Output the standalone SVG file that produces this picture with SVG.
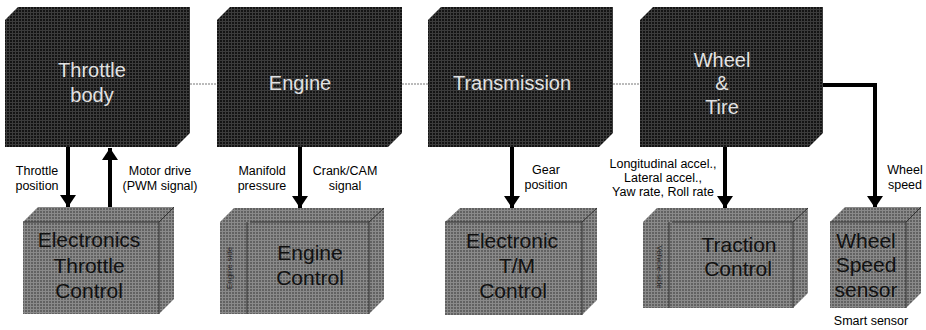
<svg xmlns="http://www.w3.org/2000/svg" width="926" height="330" viewBox="0 0 926 330">
<defs>
<pattern id="darkTex" patternUnits="userSpaceOnUse" width="3" height="3">
<rect width="3" height="3" fill="#141414"/>
<rect width="3" height="1" fill="#3c3c3c"/>
<rect width="1" height="3" fill="#3c3c3c"/>
</pattern>
<pattern id="greyTex" patternUnits="userSpaceOnUse" width="3" height="3">
<rect width="3" height="3" fill="#626262"/>
<rect width="3" height="1" fill="#8a8a8a"/>
<rect width="1" height="3" fill="#8a8a8a"/>
</pattern>
<marker id="ah" viewBox="0 0 12 16" refX="12" refY="8" markerWidth="12" markerHeight="16" markerUnits="userSpaceOnUse" orient="auto">
<path d="M0,0 L12,8 L0,16 Z" fill="#000"/>
</marker>
</defs>
<style>
.top{fill:url(#darkTex);}
.bot{fill:url(#greyTex);}
.edge{fill:none;stroke:#333;stroke-width:1;}
.tt{font-family:"Liberation Sans",Arial,sans-serif;font-size:20px;fill:#e2e2e2;text-anchor:middle;}
.bt{font-family:"Liberation Sans",Arial,sans-serif;font-size:21px;fill:#111;text-anchor:middle;}
.lb{font-family:"Liberation Sans",Arial,sans-serif;font-size:12.5px;fill:#000;text-anchor:middle;}
.sm{font-family:"Liberation Sans",Arial,sans-serif;font-size:8px;fill:#222;text-anchor:middle;}
.arr{fill:none;stroke:#000;stroke-width:4;marker-end:url(#ah);}
.dot{fill:none;stroke:#777;stroke-width:1;stroke-dasharray:2 1;}
</style>
<rect width="926" height="330" fill="#fff"/>

<g id="connectors">
<line class="dot" x1="190" y1="84" x2="217" y2="84"/>
<line class="dot" x1="402" y1="84" x2="428" y2="84"/>
<line class="dot" x1="613" y1="84" x2="640" y2="84"/>
<line class="arr" x1="68" y1="147" x2="68" y2="207"/>
<line class="arr" x1="110" y1="207" x2="110" y2="148"/>
<line class="arr" x1="300" y1="147" x2="300" y2="208"/>
<line class="arr" x1="512" y1="147" x2="512" y2="208"/>
<line class="arr" x1="725" y1="147" x2="725" y2="208"/>
<path class="arr" d="M818,85 H875 V208"/>
<text class="lb" x="37" y="175">Throttle</text>
<text class="lb" x="37" y="190">position</text>
<text class="lb" x="160" y="175">Motor drive</text>
<text class="lb" x="160" y="190">(PWM signal)</text>
<text class="lb" x="262" y="175">Manifold</text>
<text class="lb" x="262" y="190">pressure</text>
<text class="lb" x="345" y="175">Crank/CAM</text>
<text class="lb" x="345" y="190">signal</text>
<text class="lb" x="546" y="174">Gear</text>
<text class="lb" x="546" y="189">position</text>
<text class="lb" x="663" y="168">Longitudinal accel.,</text>
<text class="lb" x="663" y="182">Lateral accel.,</text>
<text class="lb" x="663" y="196">Yaw rate, Roll rate</text>
<text class="lb" x="905" y="174">Wheel</text>
<text class="lb" x="905" y="189">speed</text>
</g>

<g id="throttle-body">
<polygon class="top" points="5,20 18,7 190,7 190,133 176,147 5,147"/>
<text class="tt" x="92" y="77">Throttle</text>
<text class="tt" x="92" y="102">body</text>
</g>
<g id="engine">
<polygon class="top" points="217,20 230,7 402,7 402,133 388,147 217,147"/>
<text class="tt" x="300" y="90">Engine</text>
</g>
<g id="transmission">
<polygon class="top" points="428,20 441,7 613,7 613,133 599,147 428,147"/>
<text class="tt" x="512" y="90">Transmission</text>
</g>
<g id="wheel-tire">
<polygon class="top" points="640,20 653,7 823,7 823,133 809,147 640,147"/>
<text class="tt" x="722" y="67">Wheel</text>
<text class="tt" x="722" y="90">&amp;</text>
<text class="tt" x="722" y="114">Tire</text>
</g>

<g id="etc">
<polygon class="bot" points="23,222 38,207 174,207 174,299 159,314 23,314"/>
<path class="edge" d="M23,222 H159 V314 M159,222 L174,207"/>
<text class="bt" x="89" y="247">Electronics</text>
<text class="bt" x="89" y="273">Throttle</text>
<text class="bt" x="89" y="298">Control</text>
</g>
<g id="engine-control">
<polygon class="bot" points="220,222 234,208 264,208 264,300 250,314 220,314"/>
<path class="edge" d="M247,222 V314"/>
<text class="sm" transform="translate(232,268) rotate(-90)">Engine-side</text>
<polygon class="bot" points="250,222 264,208 384,208 384,299 369,314 250,314"/>
<path class="edge" d="M250,222 H369 V314 M369,222 L384,208"/>
<text class="bt" x="310" y="260">Engine</text>
<text class="bt" x="310" y="285">Control</text>
</g>
<g id="tm-control">
<polygon class="bot" points="445,222 460,208 597,208 597,300 582,315 445,315"/>
<path class="edge" d="M445,222 H582 V315 M582,222 L597,208"/>
<text class="bt" x="512" y="248">Electronic</text>
<text class="bt" x="517" y="273">T/M</text>
<text class="bt" x="513" y="298">Control</text>
</g>
<g id="traction-control">
<polygon class="bot" points="643,222 657,208 686,208 686,294 672,308 643,308"/>
<path class="edge" d="M669,222 V308"/>
<text class="sm" transform="translate(657,267) rotate(90)">Vehicle-side</text>
<polygon class="bot" points="672,222 686,208 808,208 808,293 793,308 672,308"/>
<path class="edge" d="M672,222 H793 V308 M793,222 L808,208"/>
<text class="bt" x="739" y="252">Traction</text>
<text class="bt" x="738" y="276">Control</text>
</g>
<g id="wheel-speed-sensor">
<polygon class="bot" points="830,222 845,207 921,207 921,293 906,308 830,308"/>
<path class="edge" d="M830,222 H906 V308 M906,222 L921,207"/>
<text class="bt" x="866" y="248">Wheel</text>
<text class="bt" x="866" y="272">Speed</text>
<text class="bt" x="866" y="297">sensor</text>
<text class="lb" x="871" y="325">Smart sensor</text>
</g>
</svg>
